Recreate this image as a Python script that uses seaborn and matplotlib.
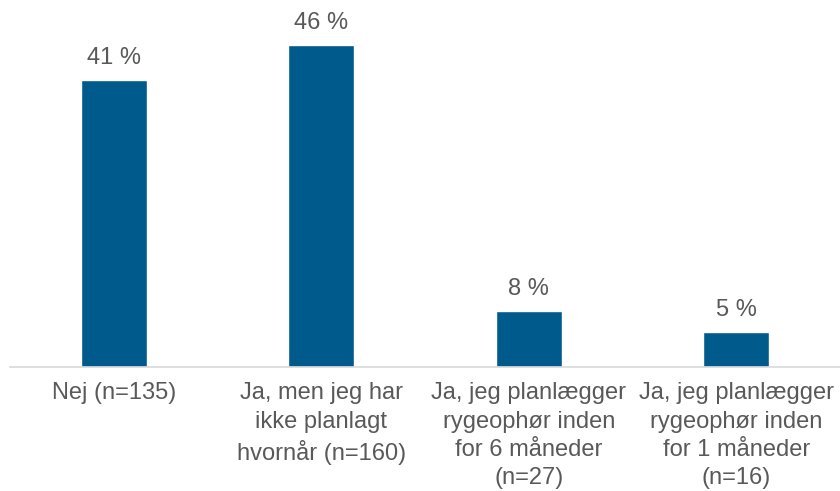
import seaborn as sns
import pandas as pd
import matplotlib.pyplot as plt

categories = ["Nej (n=135)",
              "Ja, men jeg har\nikke planlagt\nhvornår (n=160)",
              "Ja, jeg planlægger\nrygeophør inden\nfor 6 måneder\n(n=27)",
              "Ja, jeg planlægger\nrygeophør inden\nfor 1 måneder\n(n=16)"]
values = [41, 46, 8, 5]

sns.set_style('white')
plt.rcParams['font.family'] = ['Liberation Sans', 'DejaVu Sans']

text_color = "#595959"
bar_color = "#005A8C"

df = pd.DataFrame({'cat': categories, 'val': values})

fig = plt.figure(figsize=(8.4, 4.91), dpi=100)
ax = fig.add_axes([0.012, 0.2525, 0.988, 0.7475])
sns.barplot(data=df, x='cat', y='val', color=bar_color, width=0.32,
            saturation=1, ax=ax)

for i, v in enumerate(values):
    ax.text(i, v + 1.6, f"{v} %", ha='center', va='bottom',
            fontsize=17, color=text_color)

ax.set_xlim(-0.5, 3.5)
ax.set_ylim(0, 52.4)
ax.set_xlabel('')
ax.set_ylabel('')
ax.set_yticks([])
ax.tick_params(axis='x', length=0, pad=11, labelsize=17, labelcolor=text_color)
for lbl in ax.get_xticklabels():
    lbl.set_linespacing(1.37)
for s in ['top', 'right', 'left']:
    ax.spines[s].set_visible(False)
ax.spines['bottom'].set_color('#d9d9d9')
ax.spines['bottom'].set_linewidth(1.2)

fig.savefig("out.png", dpi=100)
